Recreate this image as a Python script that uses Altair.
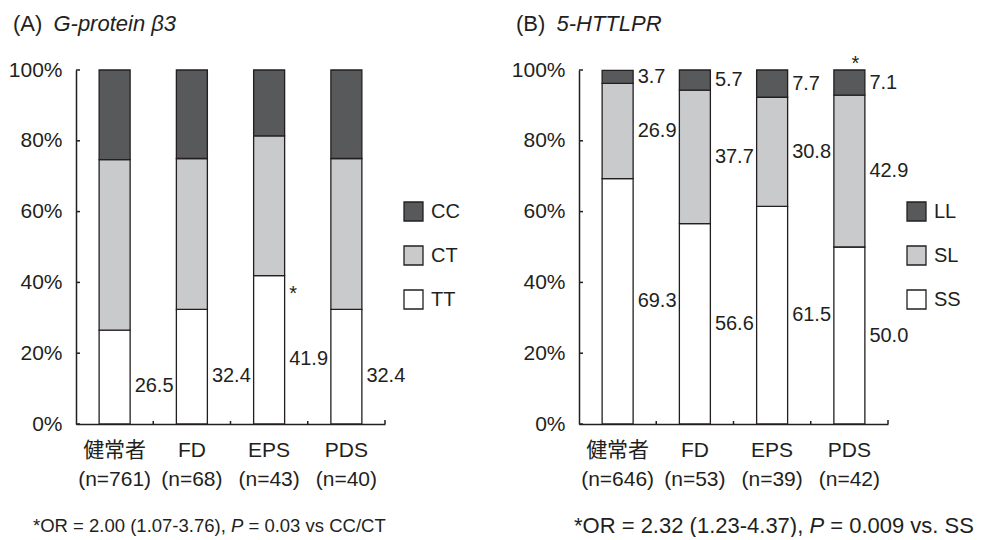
import altair as alt
import pandas as pd

FONT = "Liberation Sans, Arial, Noto Sans CJK JP, sans-serif"
INK = "#231f20"

# ---------------- data ----------------
categories = ["健常者", "FD", "EPS", "PDS"]
n_a = ["(n=761)", "(n=68)", "(n=43)", "(n=40)"]
n_b = ["(n=646)", "(n=53)", "(n=39)", "(n=42)"]

genotypes_a = ["CC", "CT", "TT"]          # top -> bottom
cc = [25.3, 25.0, 18.6, 25.0]
ct = [48.2, 42.6, 39.5, 42.6]
tt = [26.5, 32.4, 41.9, 32.4]

genotypes_b = ["LL", "SL", "SS"]          # top -> bottom
ll = [3.7, 5.7, 7.7, 7.1]
sl = [26.9, 37.7, 30.8, 42.9]
ss = [69.3, 56.6, 61.5, 50.0]

y_ticks = [0, 20, 40, 60, 80, 100]

fills = ["#58595b", "#c9cacc", "#ffffff"]

title_a = ("(A)", "G-protein β3")
title_b = ("(B)", "5-HTTLPR")
foot_a = ("*OR = 2.00 (1.07-3.76),", "P", "= 0.03 vs CC/CT")
foot_b = ("*OR = 2.32 (1.23-4.37),", "P", "= 0.009 vs. SS")

W, H = 309, 354
FS = 21
VFS = 20

AW = {' ': 278, '*': 389, 'O': 778, 'R': 722, '=': 584, '.': 278, '(': 333, ')': 333,
      '-': 333, ',': 278, 'P': 667, 'v': 500, 's': 500, 'C': 722, 'T': 611, '/': 278,
      'S': 667, 'A': 667, 'B': 667}


def tw(s, fs):
    return sum(AW.get(c, 556) for c in s) * fs / 1000.0


def frame(ns, names, series, labelled):
    rows = []
    for i, cat in enumerate(categories):
        base = 0.0
        for rank, (name, vals) in enumerate(zip(reversed(names), reversed(series))):
            v = vals[i]
            rows.append(dict(key=f"{cat}|{ns[i]}", geno=name, value=v, rank=rank,
                             mid=base + v / 2, top=base + v, lab=name in labelled))
            base += v
    return pd.DataFrame(rows)


def txt(s, x, y, fs, italic=False):
    m = dict(align="left", baseline="middle", font=FONT, fontSize=fs, color=INK)
    if italic:
        m["fontStyle"] = "italic"
    return alt.Chart(pd.DataFrame({"t": [s]})).mark_text(**m).encode(
        x=alt.value(x), y=alt.value(y), text="t:N")


def panel(df, names, label_dy, star_rows, star_dx, star_dy, title, foot, fx0, ffs):
    keys = list(dict.fromkeys(df["key"]))
    xscale = alt.Scale(paddingInner=0, paddingOuter=0)
    x = alt.X("key:N", sort=keys, scale=xscale,
              axis=alt.Axis(title=None, labelExpr="split(datum.label, '|')", labelAngle=0,
                            labelFont=FONT, labelFontSize=FS, labelColor=INK,
                            labelLineHeight=29, labelPadding=15, ticks=False,
                            domainColor=INK, domainWidth=1.5, labelOverlap=False))
    yscale = alt.Scale(domain=[0, 100], nice=False)
    bars = alt.Chart(df).mark_bar(size=31, stroke=INK, strokeWidth=1.3).encode(
        x=x,
        y=alt.Y("value:Q", stack="zero", scale=yscale,
                axis=alt.Axis(title=None, values=y_ticks,
                              labelExpr="datum.value + '%'", labelFont=FONT,
                              labelFontSize=FS, labelColor=INK, labelPadding=14,
                              ticks=False, domainColor=INK,
                              domainWidth=1.5, grid=False)),
        color=alt.Color("geno:N", scale=alt.Scale(domain=names, range=fills),
                        legend=alt.Legend(orient="none", legendX=327, legendY=131,
                                          title=None, symbolType="square",
                                          symbolSize=361, symbolStrokeColor=INK,
                                          symbolStrokeWidth=1.3, symbolOpacity=1,
                                          labelFont=FONT, labelFontSize=VFS,
                                          labelColor=INK, rowPadding=19,
                                          labelOffset=7, padding=0)),
        order=alt.Order("rank:Q"),
    )
    # inward ticks on the y axis
    yt = alt.Chart(pd.DataFrame({"v": y_ticks})).mark_rule(color=INK, strokeWidth=1.5).encode(
        x=alt.value(0), x2=alt.value(4), y=alt.Y("v:Q", scale=yscale))
    # small upward ticks at the band boundaries of the x axis
    xt = alt.Chart(pd.DataFrame({"key": keys[1:]})).mark_rule(color=INK, strokeWidth=1.5).encode(
        x=alt.X("key:N", sort=keys, scale=xscale, bandPosition=0),
        y=alt.value(H), y2=alt.value(H - 3))
    xend = alt.Chart(pd.DataFrame({"k": [0]})).mark_rule(color=INK, strokeWidth=1.5).encode(
        x=alt.value(W), y=alt.value(H), y2=alt.value(H - 4))
    labels = alt.Chart(df[df["lab"]]).mark_text(
        align="left", baseline="middle", dx=20, dy=label_dy, font=FONT,
        fontSize=VFS, color=INK).encode(
        x=alt.X("key:N", sort=keys),
        y=alt.Y("mid:Q", stack=None, scale=yscale),
        text=alt.Text("value:Q", format=".1f"))
    star = alt.Chart(star_rows).mark_text(
        align="center", baseline="middle", dx=star_dx, dy=star_dy, font=FONT,
        fontSize=VFS, color=INK).encode(
        x=alt.X("key:N", sort=keys),
        y=alt.Y("top:Q", stack=None, scale=yscale),
        text=alt.value("*"))

    tfs = 22
    t1 = txt(title[0], -63, -46, tfs)
    t2 = txt(title[1], -63 + tw(title[0] + " ", tfs) + 5, -46, tfs, italic=True)

    fy = 456
    sp = tw(" ", ffs)
    x1 = fx0
    x2 = x1 + tw(foot[0], ffs) + sp
    x3 = x2 + tw(foot[1], ffs) + sp
    f1 = txt(foot[0], x1, fy, ffs)
    f2 = txt(foot[1], x2, fy, ffs, italic=True)
    f3 = txt(foot[2], x3, fy, ffs)

    return alt.layer(bars, yt, xt, xend, labels, star, t1, t2, f1, f2, f3).properties(
        width=W, height=H)


df_a = frame(n_a, genotypes_a, [cc, ct, tt], ["TT"])
df_b = frame(n_b, genotypes_b, [ll, sl, ss], ["LL", "SL", "SS"])

star_a = df_a[(df_a["key"].str.startswith("EPS")) & (df_a["geno"] == "TT")]
star_b = df_b[(df_b["key"].str.startswith("PDS")) & (df_b["geno"] == "LL")]

pa = panel(df_a, genotypes_a, 9, star_a, 24, 18, title_a, foot_a, -43, 18.5)
pb = panel(df_b, genotypes_b, 0, star_b, 6, -6, title_b, foot_b, -5, 22)

chart = alt.hconcat(pa, pb, spacing=51).resolve_scale(color="independent").properties(
    padding={"left": 0, "top": 5, "right": 0, "bottom": 0}
).configure_view(stroke=None)

chart.save("out.html", embed_options={"renderer": "svg", "actions": False})
